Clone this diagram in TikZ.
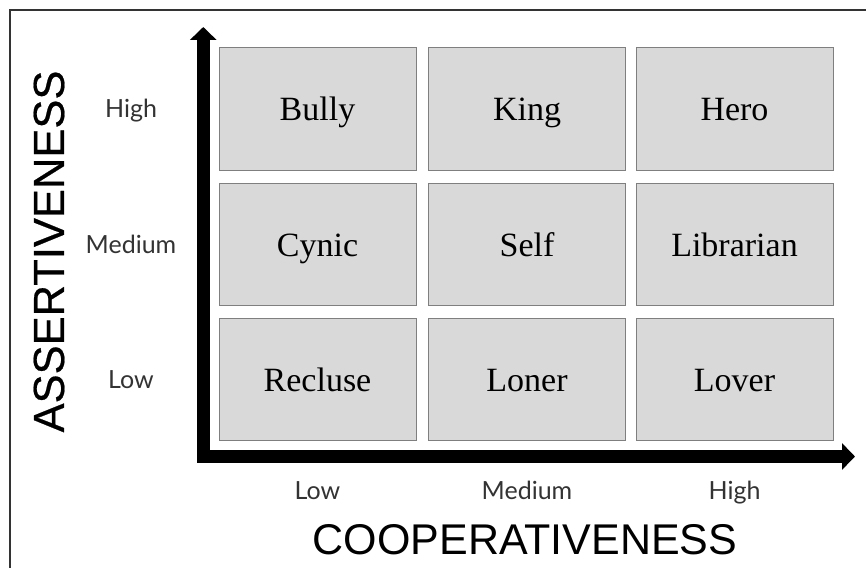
\documentclass[tikz,border=0pt]{standalone}
\usepackage{fontspec}
\setmainfont{Liberation Serif}
\newfontfamily\latofont{Lato}
\newfontfamily\titlefont{Liberation Sans}
\newfontfamily\titleboldfont[FakeBold=0.5]{Liberation Sans}
\usetikzlibrary{arrows.meta}
\definecolor{cellfill}{HTML}{D9D9D9}
\definecolor{celledge}{HTML}{7F7F7F}
\definecolor{framecol}{HTML}{333333}
\definecolor{lblcol}{HTML}{333333}
\tikzset{
  cell/.style={draw=celledge, fill=cellfill, line width=1pt, minimum width=197pt, minimum height=122pt, inner sep=0pt, text height=27pt, text depth=3pt, font=\fontsize{34}{36}\selectfont},
  tick/.style={text=lblcol, inner sep=0pt, anchor=base, font=\latofont\fontsize{25}{27}\selectfont},
  axtitle/.style={inner sep=0pt, font=\titlefont\fontsize{43}{46}\selectfont},
  axisline/.style={line width=12.5pt, line join=miter, {Triangle[length=13pt,width=26pt]}-{Triangle[length=13pt,width=26pt]}},
}
\begin{document}
\begin{tikzpicture}[x=1pt,y=-1pt]
\useasboundingbox (0,0) rectangle (866,567);
\fill[white] (0,0) rectangle (866,567);
\draw[framecol, line width=1.2pt] (10,570) -- (10,10) -- (870,10);

% cells
\node[cell] (b11) at (317.5,109) {Bully};
\node[cell] (b12) at (527,109) {King};
\node[cell] (b13) at (734.5,109) {Hero};
\node[cell] (b21) at (317.5,244) {Cynic};
\node[cell] (b22) at (527,244) {Self};
\node[cell] (b23) at (734.5,244) {Librarian};
\node[cell] (b31) at (317.5,379.5) {Recluse};
\node[cell] (b32) at (527,379.5) {Loner};
\node[cell] (b33) at (734.5,379.5) {Lover};

% axes
\coordinate (ytip) at (203.25,27);
\coordinate (corner) at (203.25,456.5);
\coordinate (xtip) at (855,456.5);
\draw[axisline] (ytip) -- (corner) -- (xtip);

% y ticks
\node[tick] (yh) at (131,117.5) {High};
\node[tick] (ym) at (131,253) {Medium};
\node[tick] (yl) at (131,388) {Low};
% x ticks
\node[tick] (xl) at (317.5,499) {Low};
\node[tick] (xm) at (527,499) {Medium};
\node[tick] (xh) at (734.5,499) {High};

% titles
\node[axtitle] (tx) at (525,539.5) {COOPERATIVENESS};
\node[inner sep=0pt, rotate=90, font=\titleboldfont\fontsize{43.5}{46}\selectfont] (ty) at (49,251.5) {ASSERTIVENESS};
\end{tikzpicture}
\end{document}
